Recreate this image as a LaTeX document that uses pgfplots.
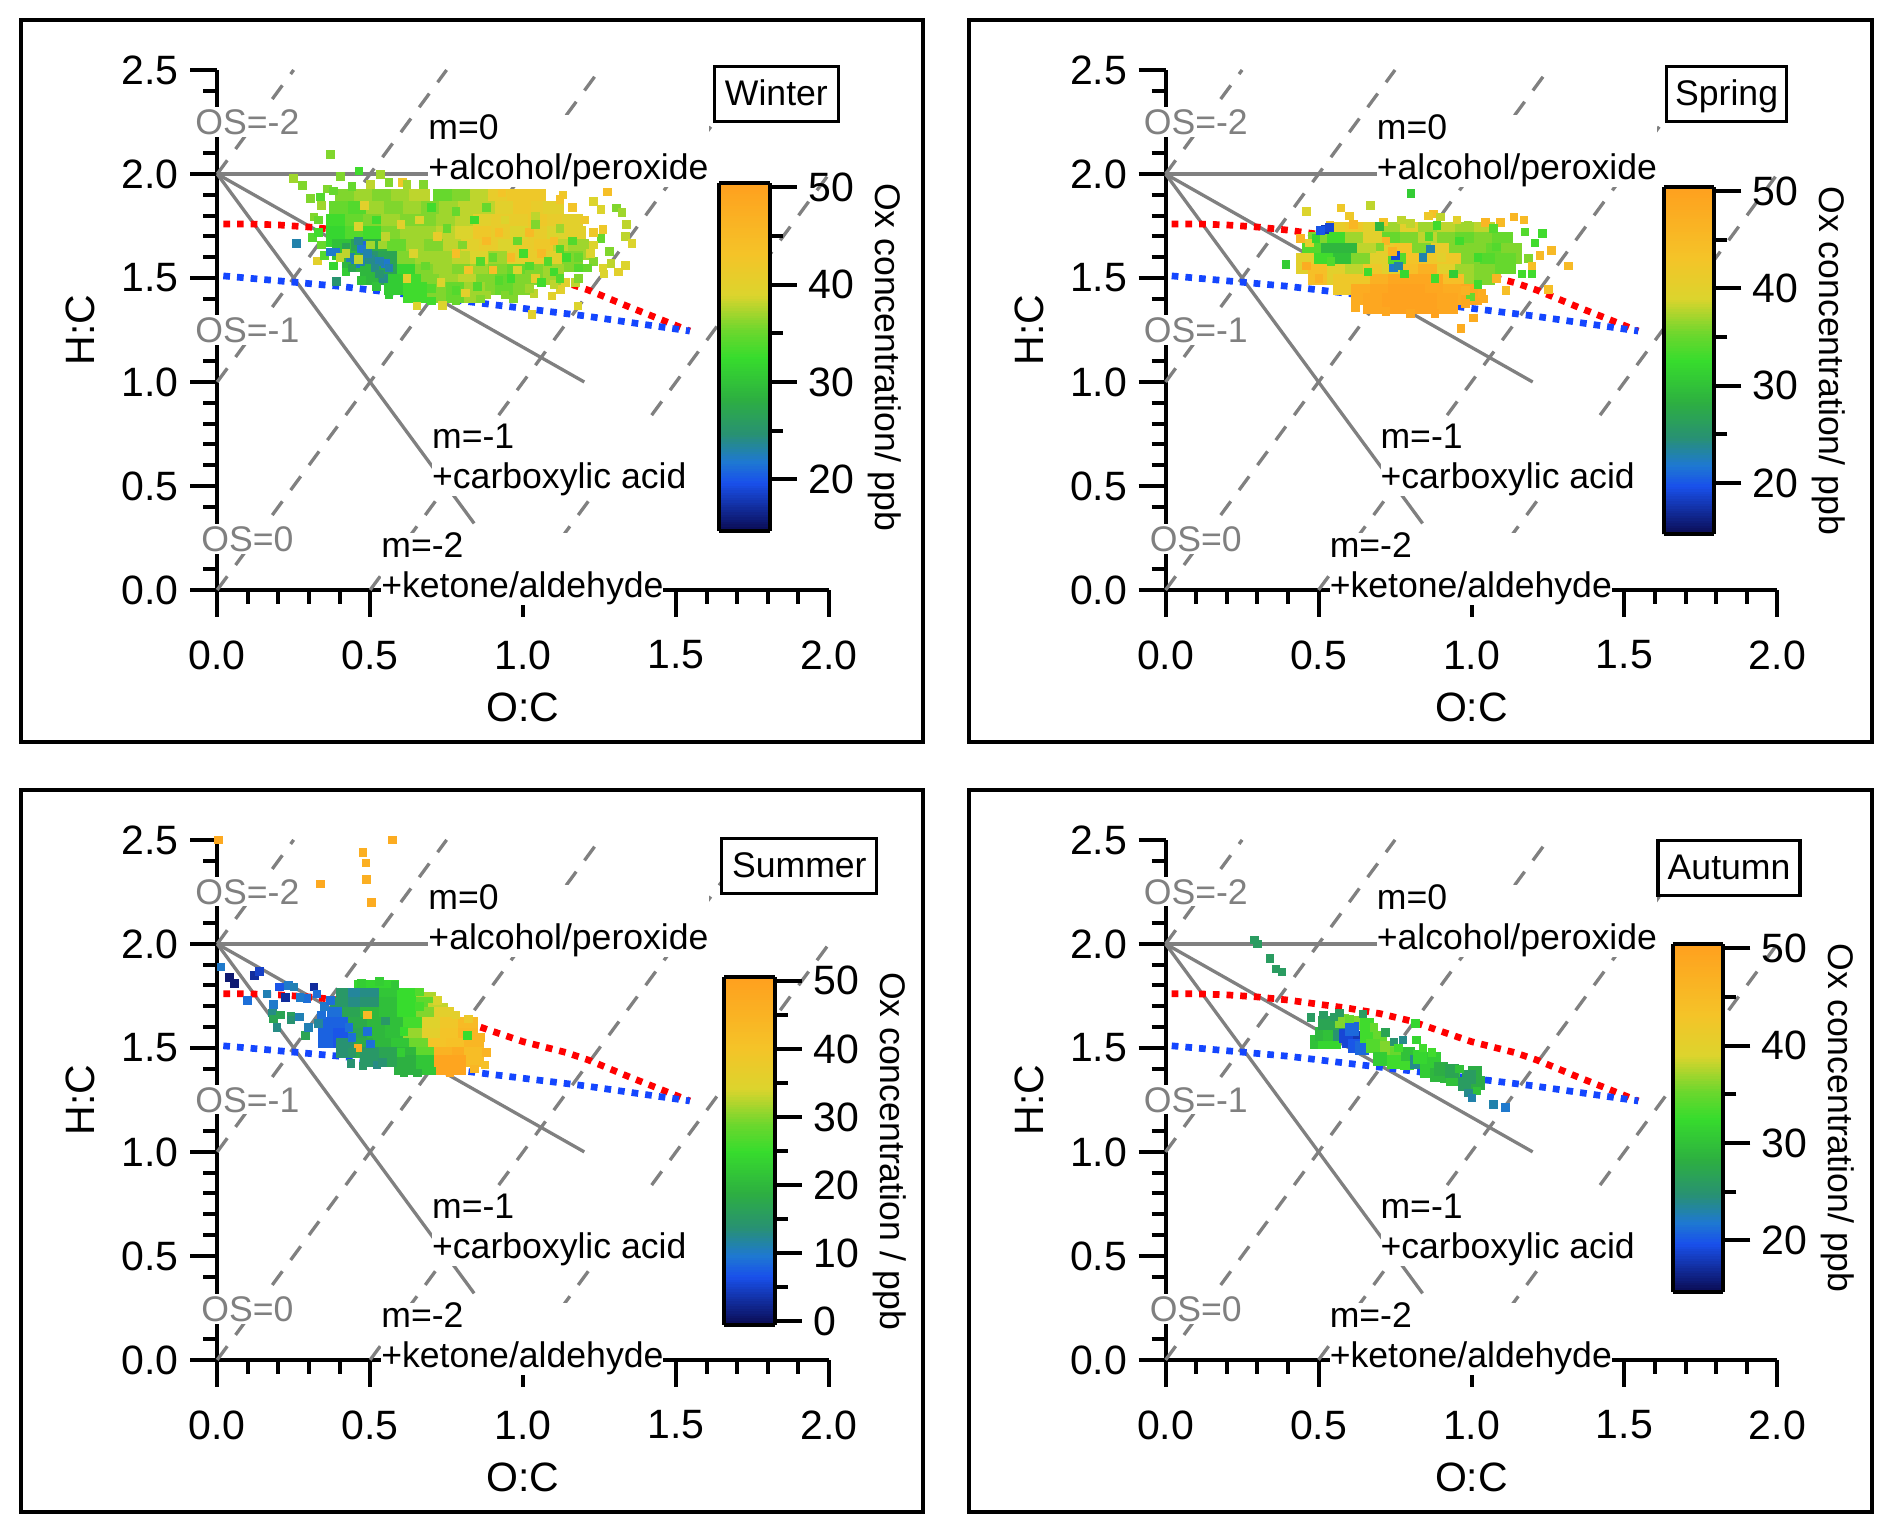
\documentclass[border=0pt]{standalone}
\usepackage{fontspec}
\setmainfont{Liberation Sans}
\usepackage{pgfplots}
\usepackage{pgfplotstable}
\pgfplotsset{compat=1.18}

\newcommand{\tickfont}{\fontsize{41}{46}\selectfont}
\newcommand{\notefont}{\fontsize{35.6}{40}\selectfont}

\pgfplotsset{
  colormap={ox}{rgb255(0pt)=(10,10,80); rgb255(14pt)=(25,80,235); rgb255(20pt)=(30,120,210);
    rgb255(28pt)=(40,145,115); rgb255(38pt)=(45,175,65); rgb255(50pt)=(55,220,45);
    rgb255(58pt)=(110,215,45); rgb255(68pt)=(220,212,45); rgb255(80pt)=(245,195,40);
    rgb255(100pt)=(255,160,30)},
  panel/.style={
    scale only axis, width=611.8pt, height=520pt,
    xmin=0, xmax=2, ymin=0, ymax=2.5,
    axis lines=left, axis line style={-,line width=4pt},
    clip=false, anchor=south west,
    xtick={0,0.5,1,1.5,2}, ytick={0,0.5,1,1.5,2,2.5}, minor tick num=4,
    tick align=outside, tick style={black,line width=4pt},
    major tick length=27pt, minor tick length=14pt,
    /pgf/number format/assume math mode=true,
    /pgf/number format/fixed, /pgf/number format/fixed zerofill, /pgf/number format/precision=1,
    tick label style={font=\tickfont},
    xticklabel style={yshift=-20pt}, yticklabel style={xshift=-8pt},
    xlabel={O:C}, ylabel={H:C},
    label style={font=\tickfont},
    xlabel style={at={(axis description cs:0.5,-0.225)},anchor=center},
    ylabel style={at={(axis description cs:-0.223,0.5)},anchor=center},
    colorbar sampled, colormap name=ox,
  },
  bar/.style={
    colorbar shift/.style={},
    scale only axis, width=50.7pt, height=347.5pt,
    samples=144,
    xmin=0, xmax=1,
    tick align=outside, tick style={black,line width=4pt},
    axis line style={line width=4pt},
    major tick length=27pt, minor tick length=13pt,
    minor y tick num=1, ytick pos=right,
    /pgf/number format/assume math mode=true,
    /pgf/number format/fixed, /pgf/number format/precision=0,
    tick label style={font=\tickfont},
    yticklabel style={xshift=8pt},
    label style={font=\notefont},
    at={(parent axis.south west)}, anchor=south west,
    ylabel={Ox concentration/ ppb},
    ylabel style={at={(axis description cs:3.26,0.5)},anchor=center,rotate=180},
  },
}

\newcommand{\cloud}[2]{\addplot[scatter, only marks, scatter src=explicit, mark=square*, mark size=#2,
  scatter/use mapped color={draw=mapped color,fill=mapped color}] table[x=x,y=y,meta=z]{#1};}

\newcommand{\guides}{%
  \addplot[gray,line width=3.3pt,dash pattern=on 17pt off 14pt] coordinates {(0,2)(0.25,2.5)};
  \addplot[gray,line width=3.3pt,dash pattern=on 17pt off 14pt] coordinates {(0,1)(0.75,2.5)};
  \addplot[gray,line width=3.3pt,dash pattern=on 17pt off 14pt] coordinates {(0,0)(1.25,2.5)};
  \addplot[gray,line width=3.3pt,dash pattern=on 17pt off 14pt] coordinates {(0.5,0)(1.75,2.5)};
  \addplot[gray,line width=3.3pt,dash pattern=on 17pt off 14pt] coordinates {(1,0)(2,2)};
  \addplot[gray,line width=3.3pt] coordinates {(0,2)(0.7,2)};
  \addplot[gray,line width=3.3pt] coordinates {(0,2)(1.2,1)};
  \addplot[gray,line width=3.3pt] coordinates {(0,2)(0.84,0.32)};
  \addplot[red,line width=6.7pt,dash pattern=on 6.7pt off 7pt] coordinates {(0.02,1.76)(0.1,1.76)(0.2,1.755)(0.3,1.745)(0.4,1.73)(0.5,1.71)(0.6,1.69)(0.7,1.665)(0.8,1.63)(0.9,1.58)(1.0,1.53)(1.14,1.478)(1.213,1.442)(1.348,1.36)(1.545,1.245)};
  \addplot[color={rgb,255:red,20;green,70;blue,255},line width=6.7pt,dash pattern=on 6.7pt off 7pt] coordinates {(0.02,1.51)(0.4,1.46)(0.8,1.39)(1.2,1.318)(1.545,1.245)};
}
\newcommand{\notes}{%
  \node[fill=white,inner sep=2pt,text=gray,font=\notefont] at (axis cs:0.0986,2.25) {OS=-2};
  \node[fill=white,inner sep=2pt,text=gray,font=\notefont] at (axis cs:0.0986,1.25) {OS=-1};
  \node[fill=white,inner sep=2pt,text=gray,font=\notefont] at (axis cs:0.0986,0.245) {OS=0};
  \node[fill=white,inner sep=0pt,align=left,anchor=west,font=\notefont] at (axis cs:0.69,2.11) {m=0\\+alcohol/peroxide};
  \node[fill=white,inner sep=0pt,align=left,anchor=west,font=\notefont] at (axis cs:0.702,0.624) {m=-1\\+carboxylic acid};
  \node[fill=white,inner sep=0pt,align=left,anchor=west,font=\notefont] at (axis cs:0.536,0.102) {m=-2\\+ketone/aldehyde};
}
\newcommand{\season}[4]{\node[draw=black,fill=white,line width=3.3pt,inner sep=0pt,minimum width=#3,minimum height=55pt,text height=28.5pt,text depth=5.5pt,font=\notefont] at (axis cs:#1,#2) {#4};}

\pgfplotstableread[row sep=\\]{
x y z\\
0.42 1.88 36\\ 0.48 1.88 37\\ 0.54 1.88 36\\ 0.60 1.88 37\\ 0.66 1.88 38\\ 0.74 1.88 35\\ 0.80 1.88 36\\ 0.86 1.88 38\\ 0.92 1.88 41\\ 0.98 1.88 42\\ 1.04 1.88 42\\
0.40 1.82 35\\ 0.46 1.82 34\\ 0.52 1.82 37\\ 0.58 1.82 36\\ 0.64 1.82 37\\ 0.70 1.82 36\\ 0.76 1.82 37\\ 0.82 1.82 38\\ 0.88 1.82 38\\ 0.94 1.82 40\\ 1.00 1.82 42\\ 1.06 1.82 41\\ 1.10 1.82 40\\
0.39 1.76 33\\ 0.45 1.76 35\\ 0.51 1.76 36\\ 0.57 1.76 37\\ 0.63 1.76 36\\ 0.69 1.76 36\\ 0.75 1.76 37\\ 0.81 1.76 38\\ 0.87 1.76 40\\ 0.93 1.76 41\\ 0.99 1.76 41\\ 1.05 1.76 42\\ 1.11 1.76 41\\ 1.16 1.76 40\\
0.39 1.70 32\\ 0.45 1.70 34\\ 0.51 1.70 33\\ 0.57 1.70 36\\ 0.63 1.70 37\\ 0.69 1.70 37\\ 0.75 1.70 38\\ 0.81 1.70 39\\ 0.87 1.70 42\\ 0.93 1.70 41\\ 0.99 1.70 39\\ 1.05 1.70 41\\ 1.11 1.70 39\\ 1.17 1.70 40\\
0.41 1.64 30\\ 0.47 1.64 27\\ 0.53 1.64 28\\ 0.59 1.64 35\\ 0.65 1.64 37\\ 0.71 1.64 36\\ 0.77 1.64 38\\ 0.83 1.64 40\\ 0.89 1.64 41\\ 0.95 1.64 39\\ 1.01 1.64 41\\ 1.07 1.64 42\\ 1.13 1.64 38\\ 1.18 1.64 37\\
0.44 1.58 29\\ 0.50 1.58 25\\ 0.56 1.58 27\\ 0.62 1.58 36\\ 0.68 1.58 37\\ 0.74 1.58 37\\ 0.80 1.58 38\\ 0.86 1.58 39\\ 0.92 1.58 37\\ 0.98 1.58 40\\ 1.04 1.58 41\\ 1.10 1.58 40\\ 1.16 1.58 36\\
0.50 1.52 29\\ 0.56 1.52 27\\ 0.62 1.52 32\\ 0.68 1.52 36\\ 0.74 1.52 37\\ 0.80 1.52 36\\ 0.86 1.52 37\\ 0.92 1.52 36\\ 0.98 1.52 35\\ 1.04 1.52 36\\ 1.10 1.52 37\\
0.58 1.47 31\\ 0.64 1.47 33\\ 0.70 1.47 36\\ 0.76 1.47 37\\ 0.82 1.47 38\\ 0.88 1.47 36\\ 0.94 1.47 35\\ 1.00 1.47 36\\
0.66 1.43 33\\ 0.72 1.43 36\\ 0.78 1.43 35\\ 0.84 1.43 37\\
}\winterbody
\pgfplotstableread[row sep=\\]{
x y z\\
0.369 2.096 36\\ 0.249 1.98 37\\ 0.277 1.947 36\\ 0.462 2.015 33\\ 0.533 2.0 37\\ 0.402 1.99 36\\ 0.304 1.883 36\\ 0.337 1.89 34\\ 0.315 1.795 36\\ 0.31 1.695 34\\
0.258 1.667 23\\ 0.326 1.584 40\\ 0.389 1.485 25\\ 0.652 1.367 39\\ 0.735 1.37 39\\ 1.028 1.327 40\\ 1.178 1.367 39\\ 1.094 1.415 40\\ 1.23 1.87 39\\ 1.254 1.83 39\\
1.274 1.915 44\\ 1.304 1.838 36\\ 1.322 1.816 37\\ 1.338 1.76 38\\ 1.26 1.735 42\\ 1.333 1.70 38\\ 1.355 1.667 39\\ 1.254 1.69 35\\ 1.23 1.66 39\\ 1.282 1.63 36\\
1.23 1.58 36\\ 1.287 1.57 38\\ 1.333 1.562 39\\ 1.26 1.55 39\\ 1.31 1.53 40\\ 1.263 1.52 39\\ 1.17 1.48 38\\ 1.138 1.48 40\\ 1.122 1.447 40\\ 1.034 1.426 38\\
0.968 1.40 36\\ 0.88 1.42 37\\ 0.81 1.43 40\\ 0.605 1.96 42\\ 0.674 1.95 36\\ 1.13 1.90 42\\ 0.93 1.91 43\\
0.36 1.93 36\\ 0.34 1.85 37\\ 0.33 1.78 35\\ 0.33 1.72 33\\ 0.34 1.66 35\\ 0.35 1.61 34\\ 0.38 1.56 32\\ 0.42 1.53 31\\ 0.47 1.49 30\\ 0.52 1.46 30\\ 0.56 1.42 31\\ 0.62 1.40 33\\ 0.70 1.39 33\\ 0.78 1.39 35\\ 0.86 1.40 36\\ 0.94 1.42 36\\ 1.02 1.45 37\\ 1.10 1.47 38\\ 1.18 1.50 36\\ 1.21 1.55 35\\ 1.22 1.62 39\\ 1.23 1.72 42\\ 1.20 1.78 42\\ 1.16 1.84 43\\ 1.12 1.88 43\\
0.44 1.94 35\\ 0.50 1.95 38\\ 0.56 1.96 36\\ 0.62 1.95 37\\ 0.38 1.92 35\\
0.369 1.627 22\\ 0.385 1.627 22\\ 0.451 1.571 22\\ 0.467 1.58 23\\ 0.484 1.66 21\\ 0.47 1.64 22\\ 0.549 1.57 22\\ 0.53 1.58 23\\ 0.543 1.50 24\\ 0.50 1.59 24\\ 0.56 1.55 23\\
0.435 1.60 23\\ 0.49 1.62 23\\ 0.515 1.55 24\\ 0.53 1.52 25\\ 0.46 1.68 24\\ 0.42 1.65 27\\ 0.44 1.55 27\\ 0.50 1.66 37\\ 0.46 1.59 38\\ 0.54 1.66 37\\ 0.40 1.60 38\\
0.60 1.76 40\\ 0.48 1.85 40\\ 0.64 1.62 39\\ 0.72 1.70 41\\ 0.78 1.62 44\\ 0.82 1.54 43\\ 0.88 1.68 45\\ 0.92 1.72 44\\ 0.96 1.60 45\\ 1.02 1.72 45\\ 1.06 1.62 45\\ 1.10 1.68 44\\
0.90 1.54 44\\ 1.00 1.62 33\\ 1.14 1.60 33\\ 1.18 1.55 34\\ 1.10 1.53 33\\ 0.92 1.49 34\\ 0.84 1.78 33\\ 0.70 1.84 33\\ 0.55 1.70 38\\ 0.62 1.50 40\\ 0.46 1.75 39\\ 0.42 1.62 38\\
0.66 1.78 39\\ 0.75 1.74 35\\ 0.80 1.66 36\\ 0.68 1.56 35\\ 0.73 1.48 39\\ 0.86 1.58 34\\ 0.94 1.78 39\\ 1.04 1.80 38\\ 1.12 1.74 37\\ 0.98 1.54 39\\ 1.04 1.50 40\\ 0.52 1.78 33\\
1.08 1.58 34\\ 1.12 1.64 34\\ 1.16 1.68 34\\ 1.04 1.76 36\\ 0.98 1.68 35\\ 0.90 1.60 35\\ 1.02 1.56 34\\ 0.96 1.50 33\\ 1.06 1.48 33\\ 1.12 1.50 34\\ 0.85 1.46 34\\ 0.78 1.44 34\\ 0.70 1.45 34\\ 1.18 1.60 35\\ 0.88 1.84 35\\ 0.78 1.82 35\\
}\winteredge
\pgfplotstableread[row sep=\\]{
x y z\\
0.56 1.72 41\\ 0.62 1.72 42\\ 0.68 1.72 40\\ 0.74 1.72 37\\ 0.80 1.72 40\\ 0.86 1.72 37\\ 0.92 1.72 38\\ 0.98 1.72 37\\ 1.04 1.72 38\\
0.50 1.67 36\\ 0.56 1.67 33\\ 0.62 1.67 37\\ 0.68 1.67 40\\ 0.74 1.67 35\\ 0.80 1.67 36\\ 0.86 1.67 38\\ 0.92 1.67 36\\ 0.98 1.67 35\\ 1.04 1.67 36\\ 1.10 1.67 35\\
0.48 1.62 34\\ 0.54 1.62 29\\ 0.60 1.62 29\\ 0.66 1.62 38\\ 0.72 1.62 41\\ 0.78 1.62 43\\ 0.84 1.62 36\\ 0.90 1.62 41\\ 0.96 1.62 36\\ 1.02 1.62 36\\ 1.08 1.62 35\\ 1.13 1.62 36\\
0.46 1.57 40\\ 0.52 1.57 33\\ 0.58 1.57 30\\ 0.64 1.57 36\\ 0.70 1.57 40\\ 0.76 1.57 34\\ 0.82 1.57 43\\ 0.88 1.57 42\\ 0.94 1.57 42\\ 1.00 1.57 36\\ 1.06 1.57 34\\ 1.11 1.57 35\\
0.50 1.52 44\\ 0.56 1.52 40\\ 0.62 1.52 38\\ 0.68 1.52 42\\ 0.74 1.52 40\\ 0.80 1.52 44\\ 0.86 1.52 47\\ 0.92 1.52 40\\ 0.98 1.52 37\\ 1.04 1.52 36\\
0.58 1.47 42\\ 0.64 1.47 42\\ 0.70 1.47 47\\ 0.76 1.47 49\\ 0.82 1.47 49\\ 0.88 1.47 49\\ 0.94 1.47 44\\
0.64 1.42 48\\ 0.70 1.42 49\\ 0.76 1.42 50\\ 0.82 1.42 50\\ 0.88 1.42 49\\ 0.94 1.42 48\\ 1.00 1.42 49\\
0.68 1.38 49\\ 0.74 1.38 50\\ 0.80 1.38 50\\ 0.86 1.38 50\\ 0.92 1.38 49\\
}\springbody
\pgfplotstableread[row sep=\\]{
x y z\\
0.801 1.908 31\\ 0.668 1.85 38\\ 0.573 1.838 42\\ 0.459 1.82 39\\ 0.392 1.566 31\\ 0.965 1.26 48\\ 1.317 1.56 45\\ 1.26 1.635 45\\ 1.232 1.716 33\\ 1.206 1.67 33\\
1.174 1.722 34\\ 1.17 1.78 45\\ 1.138 1.795 46\\ 1.093 1.768 45\\ 1.044 1.768 46\\ 1.07 1.74 34\\ 1.25 1.447 44\\ 1.112 1.44 44\\ 1.033 1.427 48\\ 1.197 1.523 33\\
1.164 1.52 33\\ 1.223 1.61 45\\ 1.186 1.594 36\\ 1.197 1.56 44\\ 0.995 1.41 35\\ 1.006 1.31 48\\ 0.875 1.81 44\\ 0.858 1.80 42\\ 0.897 1.795 38\\ 0.951 1.78 40\\
0.987 1.755 37\\ 0.886 1.755 33\\ 0.80 1.763 38\\ 0.771 1.78 38\\ 0.711 1.77 43\\ 0.698 1.75 29\\ 0.60 1.80 42\\ 0.613 1.76 46\\ 0.537 1.755 43\\ 0.439 1.69 46\\
0.47 1.67 40\\ 0.49 1.69 32\\ 0.52 1.735 18\\ 0.505 1.73 20\\ 0.535 1.745 19\\ 0.864 1.64 23\\ 0.84 1.60 23\\ 0.744 1.55 22\\ 0.76 1.56 23\\ 0.75 1.61 19\\
0.72 1.68 46\\ 0.74 1.63 47\\ 0.66 1.53 33\\ 0.46 1.56 48\\ 0.50 1.50 47\\ 0.78 1.52 32\\ 0.88 1.50 33\\ 0.94 1.52 31\\ 1.02 1.47 33\\ 1.08 1.50 46\\ 0.98 1.44 47\\ 0.62 1.36 48\\
0.86 1.70 34\\ 0.96 1.68 33\\ 1.02 1.60 33\\ 1.08 1.65 34\\ 0.90 1.60 40\\ 0.70 1.65 36\\ 0.54 1.58 34\\ 0.68 1.40 49\\ 0.72 1.34 49\\ 0.80 1.33 49\\ 0.88 1.33 50\\ 0.94 1.36 49\\ 0.98 1.38 49\\ 1.04 1.40 48\\
}\springedge
\pgfplotstableread[row sep=\\]{
x y z\\
0.48 1.78 24\\ 0.52 1.78 24\\ 0.56 1.78 24\\
0.42 1.74 15\\ 0.46 1.74 12\\ 0.50 1.74 13\\ 0.56 1.74 22\\ 0.62 1.74 25\\ 0.68 1.72 32\\
0.40 1.70 15\\ 0.46 1.70 13\\ 0.50 1.70 14\\ 0.56 1.70 21\\ 0.62 1.70 25\\ 0.68 1.70 28\\ 0.72 1.67 33\\
0.39 1.65 9\\ 0.44 1.65 17\\ 0.50 1.65 20\\ 0.56 1.65 21\\ 0.62 1.65 25\\ 0.68 1.65 30\\ 0.74 1.65 36\\
0.36 1.60 8\\ 0.41 1.60 8\\ 0.46 1.60 18\\ 0.52 1.60 20\\ 0.58 1.60 21\\ 0.64 1.60 26\\ 0.70 1.60 35\\ 0.76 1.60 39\\ 0.82 1.60 43\\
0.36 1.55 8\\ 0.41 1.55 7\\ 0.46 1.55 17\\ 0.52 1.55 20\\ 0.58 1.55 21\\ 0.64 1.55 31\\ 0.70 1.55 36\\ 0.76 1.55 40\\ 0.82 1.55 44\\
0.42 1.50 14\\ 0.48 1.50 18\\ 0.54 1.50 20\\ 0.60 1.50 22\\ 0.66 1.50 29\\ 0.72 1.50 40\\ 0.78 1.50 41\\ 0.84 1.50 44\\
0.50 1.46 15\\ 0.56 1.46 17\\ 0.62 1.46 20\\ 0.68 1.46 28\\ 0.74 1.46 45\\ 0.80 1.46 47\\ 0.84 1.46 42\\
0.62 1.42 19\\ 0.68 1.42 22\\ 0.74 1.42 49\\ 0.78 1.42 49\\
}\summerbody
\pgfplotstableread[row sep=\\]{
x y z\\
0.004 2.5 48\\ 0.572 2.5 47\\ 0.475 2.44 46\\ 0.486 2.39 46\\ 0.488 2.31 46\\ 0.503 2.2 47\\ 0.336 2.29 48\\
0.011 1.89 10\\ 0.039 1.84 1\\ 0.056 1.81 1\\ 0.12 1.85 3\\ 0.137 1.87 5\\ 0.203 1.795 7\\ 0.232 1.80 10\\ 0.25 1.795 11\\ 0.316 1.795 3\\ 0.099 1.73 9\\
0.162 1.76 11\\ 0.222 1.745 3\\ 0.183 1.71 10\\ 0.18 1.67 13\\ 0.183 1.64 17\\ 0.205 1.66 17\\ 0.194 1.6 13\\ 0.24 1.655 16\\ 0.24 1.635 14\\ 0.268 1.65 11\\
0.287 1.56 17\\ 0.298 1.6 11\\ 0.292 1.74 9\\ 0.27 1.745 10\\ 0.325 1.76 9\\ 0.35 1.70 10\\ 0.34 1.66 9\\ 0.37 1.73 9\\ 0.33 1.62 12\\
0.437 1.426 14\\ 0.476 1.415 15\\ 0.521 1.42 13\\ 0.54 1.43 14\\ 0.592 1.39 19\\ 0.61 1.38 19\\ 0.654 1.38 19\\ 0.875 1.42 41\\ 0.818 1.56 25\\ 0.49 1.66 43\\ 0.459 1.5 47\\
0.47 1.81 23\\ 0.53 1.82 23\\ 0.58 1.80 22\\ 0.66 1.77 27\\ 0.72 1.73 34\\ 0.78 1.66 36\\ 0.82 1.64 38\\ 0.86 1.55 44\\ 0.88 1.48 45\\ 0.84 1.40 44\\ 0.76 1.38 49\\ 0.70 1.39 22\\
0.44 1.55 9\\ 0.43 1.60 9\\ 0.50 1.52 9\\ 0.44 1.48 15\\ 0.55 1.63 15\\ 0.49 1.58 9\\ 0.61 1.58 25\\ 0.66 1.70 26\\ 0.60 1.48 23\\
}\summeredge
\pgfplotstableread[row sep=\\]{
x y z\\
0.493 1.53 30\\ 0.52 1.53 32\\ 0.548 1.53 32\\ 0.51 1.57 29\\ 0.538 1.57 30\\ 0.57 1.57 25\\ 0.52 1.62 27\\ 0.548 1.62 27\\ 0.575 1.63 36\\ 0.62 1.62 36\\ 0.656 1.61 33\\
0.60 1.535 19\\ 0.62 1.55 18\\ 0.59 1.56 19\\ 0.618 1.51 20\\ 0.64 1.50 21\\ 0.608 1.59 21\\ 0.657 1.56 33\\ 0.70 1.55 35\\ 0.678 1.51 34\\ 0.722 1.50 36\\ 0.755 1.474 35\\
0.70 1.45 31\\ 0.744 1.435 33\\ 0.788 1.43 33\\ 0.79 1.47 30\\ 0.82 1.435 24\\ 0.83 1.46 32\\ 0.875 1.45 31\\ 0.853 1.39 31\\ 0.885 1.37 29\\ 0.92 1.365 29\\ 0.90 1.40 28\\
0.94 1.35 30\\ 0.935 1.39 27\\ 0.978 1.33 26\\ 1.02 1.335 28\\ 1.01 1.38 28\\ 0.99 1.36 26\\
}\autumnbody
\pgfplotstableread[row sep=\\]{
x y z\\
0.29 2.02 26\\ 0.30 2.0 26\\ 0.34 1.93 26\\ 0.36 1.88 26\\ 0.379 1.866 26\\
1.017 1.295 30\\ 0.99 1.285 24\\ 1.0 1.26 23\\ 1.07 1.23 23\\ 1.11 1.215 22\\ 0.474 1.647 26\\ 0.515 1.66 26\\ 0.568 1.67 26\\ 0.644 1.665 26\\ 0.816 1.618 32\\
0.775 1.54 24\\ 0.717 1.575 27\\ 0.745 1.53 25\\ 0.82 1.54 32\\ 0.55 1.65 26\\ 0.60 1.64 35\\ 0.68 1.60 35\\ 0.76 1.50 33\\ 0.84 1.50 33\\ 0.87 1.48 33\\ 0.96 1.40 30\\
}\autumnedge

\begin{document}
\begin{tikzpicture}
\useasboundingbox (0pt,0pt) rectangle (1892pt,1533pt);
\draw[line width=4pt] (20.5pt,1512.5pt) rectangle (923pt,791pt);
\draw[line width=4pt] (969pt,1512.5pt) rectangle (1871.5pt,791pt);
\draw[line width=4pt] (20.5pt,742.7pt) rectangle (923pt,21pt);
\draw[line width=4pt] (969pt,742.7pt) rectangle (1871.5pt,21pt);

% Winter
\begin{axis}[panel, at={(217.2pt,943pt)}, point meta min=14.7, point meta max=50.4,
  colorbar style={bar, xshift=502pt, yshift=59pt, ytick={20,30,40,50}}]
\guides
\cloud{\winterbody}{10pt}
\cloud{\winteredge}{3.8pt}
\notes
\season{1.828}{2.384}{124pt}{Winter}
\end{axis}

% Spring
\begin{axis}[panel, at={(1165.6pt,943pt)}, point meta min=14.7, point meta max=50.4,
  colorbar style={bar, xshift=498pt, yshift=55.5pt, ytick={20,30,40,50}}]
\guides
\cloud{\springbody}{10pt}
\cloud{\springedge}{3.8pt}
\notes
\season{1.834}{2.384}{120pt}{Spring}
\end{axis}

% Summer
\begin{axis}[panel, at={(217.2pt,173.1pt)}, point meta min=-0.5, point meta max=50.5,
  colorbar style={bar, xshift=507pt, yshift=35pt, ytick={0,10,20,30,40,50},
    ylabel={Ox concentration / ppb}}]
\guides
\cloud{\summerbody}{9.5pt}
\cloud{\summeredge}{3.8pt}
\notes
\season{1.903}{2.373}{155pt}{Summer}
\end{axis}

% Autumn
\begin{axis}[panel, at={(1165.6pt,173.1pt)}, point meta min=14.7, point meta max=50.4,
  colorbar style={bar, xshift=507pt, yshift=68pt, ytick={20,30,40,50}}]
\guides
\cloud{\autumnbody}{6.5pt}
\cloud{\autumnedge}{3.8pt}
\notes
\season{1.842}{2.364}{142pt}{Autumn}
\end{axis}
\end{tikzpicture}
\end{document}
